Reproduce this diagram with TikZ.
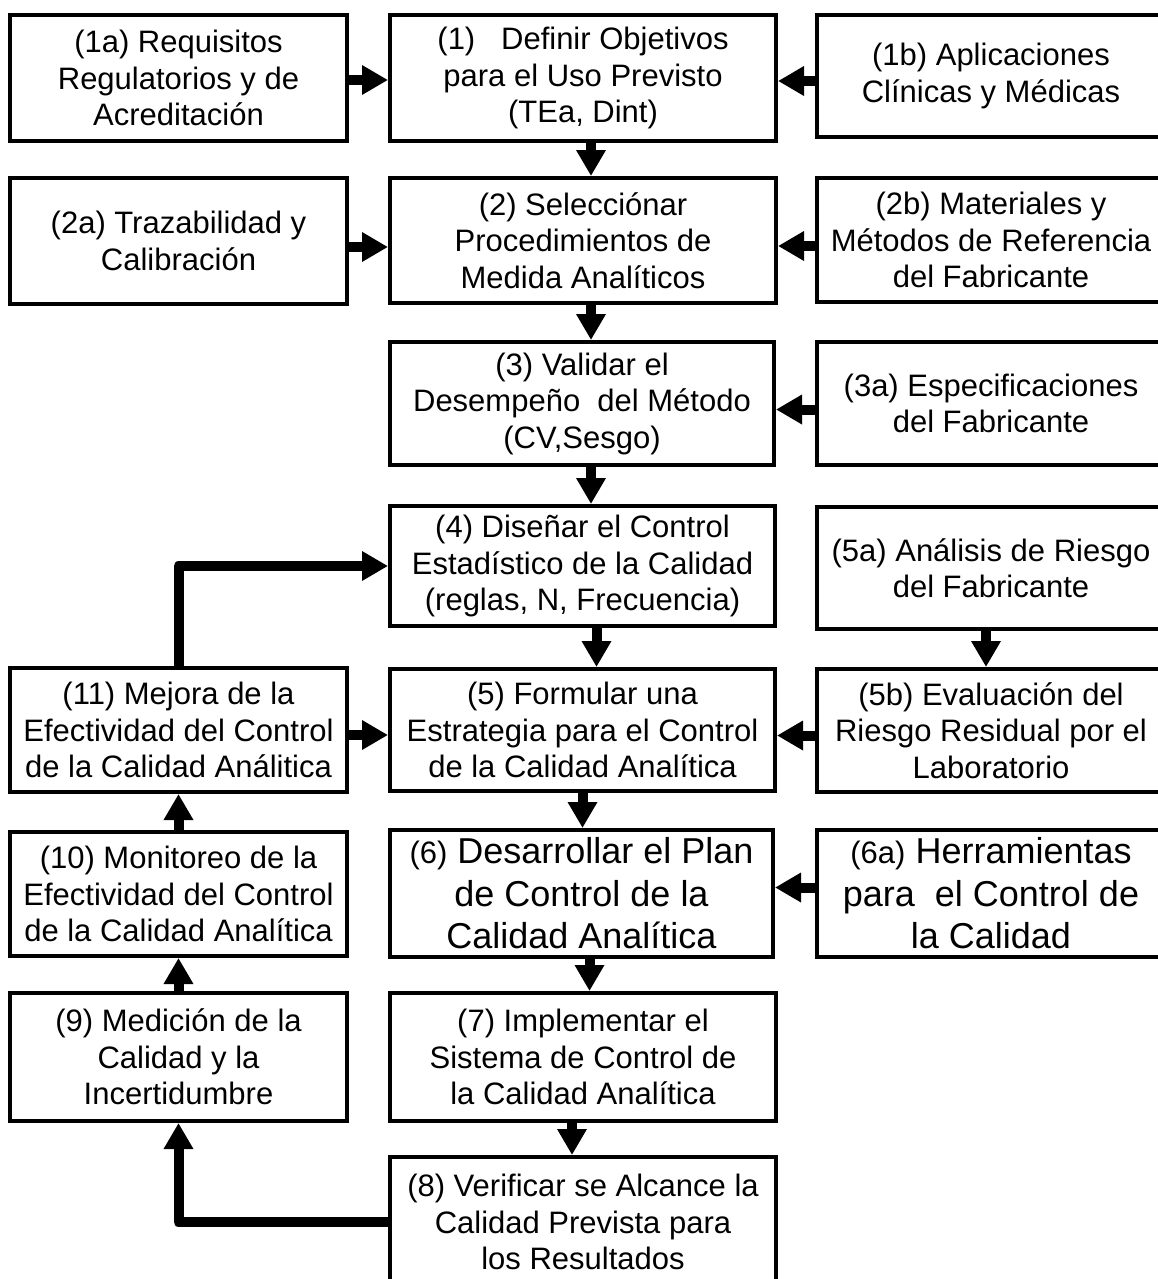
\documentclass[tikz,border=0pt]{standalone}
\usepackage{fontspec}
\setmainfont{Liberation Sans}
\usetikzlibrary{arrows.meta}
\begin{document}
\begin{tikzpicture}[x=1pt,y=-1pt,
  box/.style={draw, line width=4pt, inner sep=0pt, align=center,
    font=\fontsize{31}{36.5}\selectfont},
  leftbox/.style={box, minimum width=337pt},
  midbox/.style={box, minimum width=386pt},
  rightbox/.style={box, minimum width=348pt},
  arr/.style={line width=10pt, line join=round,
    -{Triangle[length=26pt,width=28pt]}},
  big/.style={font=\fontsize{36}{42.5}\selectfont}]
\useasboundingbox (0,0) rectangle (1158,1279);
\fill[white] (0,0) rectangle (1158,1279);

% row 1
\node[leftbox, minimum height=126pt] (n1a) at (178.5,78)
  {(1a) Requisitos\\Regulatorios y de\\Acreditación};
\node[midbox, minimum height=126pt] (n1) at (583,78)
  {(1)\ \ \ Definir Objetivos\\para el Uso Previsto\\(TEa, Dint)};
\node[rightbox, minimum height=122pt] (n1b) at (991,76)
  {(1b) Aplicaciones\\Clínicas y Médicas};
% row 2
\node[leftbox, minimum height=126pt] (n2a) at (178.5,241)
  {(2a) Trazabilidad y\\Calibración};
\node[midbox, minimum height=125pt] (n2) at (583,240.5)
  {(2) Selecciónar\\Procedimientos de\\Medida Analíticos};
\node[rightbox, minimum height=124pt] (n2b) at (991,240)
  {(2b) Materiales y\\Métodos de Referencia\\del Fabricante};
% row 3
\node[midbox, minimum width=384pt, minimum height=123pt] (n3) at (582,403.5)
  {(3) Validar el\\Desempeño\ \ del Método\\(CV,Sesgo)};
\node[rightbox, minimum height=123pt] (n3a) at (991,403.5)
  {(3a) Especificaciones\\del Fabricante};
% row 4
\node[midbox, minimum width=385pt, minimum height=120pt] (n4) at (582.5,566)
  {(4) Diseñar el Control\\Estadístico de la Calidad\\(reglas, N, Frecuencia)};
\node[rightbox, minimum height=122pt] (n5a) at (991,568)
  {(5a) Análisis de Riesgo\\del Fabricante};
% row 5
\node[leftbox, minimum height=124pt] (n11) at (178.5,730)
  {(11) Mejora de la\\Efectividad del Control\\de la Calidad Análitica};
\node[midbox, minimum width=385pt, minimum height=122pt] (n5) at (582.5,730)
  {(5) Formular una\\Estrategia para el Control\\de la Calidad Analítica};
\node[rightbox, minimum height=123pt] (n5b) at (991,730.5)
  {(5b) Evaluación del\\Riesgo Residual por el\\Laboratorio};
% row 6
\node[leftbox, minimum height=124pt] (n10) at (178.5,894)
  {(10) Monitoreo de la\\Efectividad del Control\\de la Calidad Analítica};
\node[midbox, big, minimum width=383pt, minimum height=127pt] (n6) at (581.5,893.5)
  {{\fontsize{31}{36.5}\selectfont (6)} Desarrollar el Plan\\
   de Control de la\\Calidad Analítica};
\node[rightbox, big, minimum height=127pt] (n6a) at (991,893.5)
  {{\fontsize{31}{36.5}\selectfont (6a)} Herramientas\\
   para\ \ el Control de\\la Calidad};
% row 7
\node[leftbox, minimum height=128pt] (n9) at (178.5,1057)
  {(9) Medición de la\\Calidad y la\\Incertidumbre};
\node[midbox, minimum height=128pt] (n7) at (583,1057)
  {(7) Implementar el\\Sistema de Control de\\la Calidad Analítica};
% row 8
\node[midbox, minimum height=130pt] (n8) at (583,1222)
  {(8) Verificar se Alcance la\\Calidad Prevista para\\los Resultados};

% horizontal inputs
\draw[arr] ([yshift=-2pt]n1a.east) -- ([yshift=-2pt]n1a.east -| n1.west);
\draw[arr] ([yshift=-5pt]n1b.west) -- ([yshift=-5pt]n1b.west -| n1.east);
\draw[arr] ([yshift=-6pt]n2a.east) -- ([yshift=-6pt]n2a.east -| n2.west);
\draw[arr] ([yshift=-6pt]n2b.west) -- ([yshift=-6pt]n2b.west -| n2.east);
\draw[arr] ([yshift=-6pt]n3a.west) -- ([yshift=-6pt]n3a.west -| n3.east);
\draw[arr] ([yshift=-5pt]n5b.west) -- ([yshift=-5pt]n5b.west -| n5.east);
\draw[arr] ([yshift=-5pt]n11.east) -- ([yshift=-5pt]n11.east -| n5.west);
\draw[arr] ([yshift=6pt]n6a.west) -- ([yshift=6pt]n6a.west -| n6.east);

% main column
\draw[arr] ([xshift=8pt]n1.south) -- ([xshift=8pt]n1.south |- n2.north);
\draw[arr] ([xshift=8pt]n2.south) -- ([xshift=8pt]n2.south |- n3.north);
\draw[arr] ([xshift=9pt]n3.south) -- ([xshift=9pt]n3.south |- n4.north);
\draw[arr] ([xshift=14pt]n4.south) -- ([xshift=14pt]n4.south |- n5.north);
\draw[arr] (n5.south) -- (n5.south |- n6.north);
\draw[arr] ([xshift=8pt]n6.south) -- ([xshift=8pt]n6.south |- n7.north);
\draw[arr] ([xshift=-11pt]n7.south) -- ([xshift=-11pt]n7.south |- n8.north);
\draw[arr] ([xshift=-5pt]n5a.south) -- ([xshift=-5pt]n5a.south |- n5b.north);

% left column (upwards)
\draw[arr] (n9.north) -- (n10.south);
\draw[arr] (n10.north) -- (n11.south);

% loops
\draw[arr] (n11.north) |- (n4.west);
\draw[arr] (n8.west) -| (n9.south);
\end{tikzpicture}
\end{document}
